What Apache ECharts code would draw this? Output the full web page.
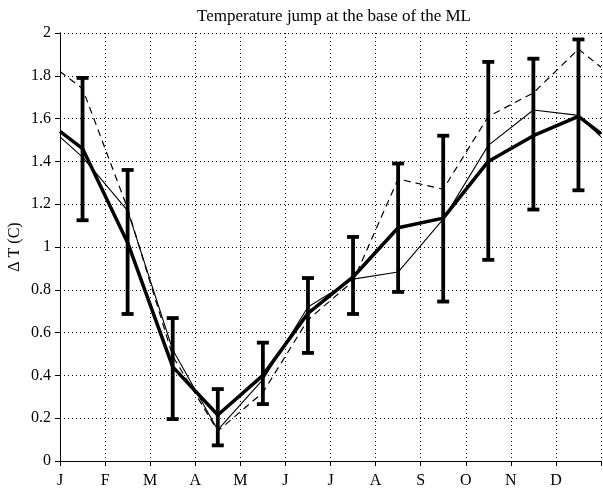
<!DOCTYPE html>
<html>
<head>
<meta charset="utf-8">
<script src="https://cdn.jsdelivr.net/npm/echarts@6/dist/echarts.min.js"></script>
<style>
  html, body { margin: 0; padding: 0; background: #fff; }
  #chart { width: 603px; height: 488px; }
</style>
</head>
<body>
<div id="chart"></div>
<script>
// month labels on the x axis (ticks at month starts)
const monthLabels = ['J', 'F', 'M', 'A', 'M', 'J', 'J', 'A', 'S', 'O', 'N', 'D', ''];
// x positions of the plotted points: left edge, mid-months, right edge
const xPos = [0, 0.5, 1.5, 2.5, 3.5, 4.5, 5.5, 6.5, 7.5, 8.5, 9.5, 10.5, 11.5, 12];

// thick line: mean, with error bars
const meanVals = [1.54, 1.46, 1.02, 0.44, 0.215, 0.40, 0.69, 0.86, 1.09, 1.135, 1.40, 1.52, 1.61, 1.53];
// thin solid line
const thinVals = [1.515, 1.42, 1.17, 0.52, 0.145, 0.38, 0.72, 0.85, 0.883, 1.13, 1.475, 1.64, 1.615, 1.515];
// dashed line
const dashVals = [1.82, 1.74, 1.18, 0.49, 0.14, 0.32, 0.66, 0.84, 1.318, 1.27, 1.61, 1.72, 1.925, 1.84];

// error bars at mid-months
const errX = [0.5, 1.5, 2.5, 3.5, 4.5, 5.5, 6.5, 7.5, 8.5, 9.5, 10.5, 11.5];
const errLow = [1.125, 0.687, 0.196, 0.073, 0.266, 0.505, 0.687, 0.79, 0.745, 0.94, 1.175, 1.265];
const errHigh = [1.79, 1.36, 0.668, 0.336, 0.553, 0.855, 1.047, 1.39, 1.52, 1.865, 1.88, 1.97];

const font = '"Liberation Serif", "DejaVu Serif", serif';

const pairs = (vals) => xPos.map((x, i) => [x, vals[i]]);

const myChart = echarts.init(document.getElementById('chart'), null, { renderer: 'canvas' });

const axisLine = { show: true, lineStyle: { color: '#000', width: 1 } };
// bottom/left ticks point out, top/right ticks point in
const tickOut = { show: true, inside: false, length: 5, lineStyle: { color: '#000' } };
const tickIn = { show: true, inside: true, length: 5, lineStyle: { color: '#000' } };
const gridDots = { show: true, lineStyle: { color: '#000', type: [1, 3], width: 1 } };

const option = {
    animation: false,
    backgroundColor: '#fff',
    title: {
        text: 'Temperature jump at the base of the ML',
        left: 329,
        textAlign: 'center',
        top: 3,
        textStyle: { fontFamily: font, fontSize: 17, fontWeight: 'normal', color: '#000' }
    },
    grid: { left: 60, right: 2, top: 33, bottom: 27, outerBoundsMode: 'none' },
    xAxis: [
        {
            type: 'value',
            min: 0, max: 12, interval: 1,
            axisLine, axisTick: tickOut,
            axisLabel: {
                color: '#000', fontFamily: font, fontSize: 16, margin: 12,
                formatter: (v) => monthLabels[Math.round(v)]
            },
            splitLine: gridDots
        },
        {
            type: 'value',
            position: 'top',
            min: 0, max: 12, interval: 1,
            axisLine, axisTick: tickIn,
            axisLabel: { show: false },
            splitLine: { show: false }
        }
    ],
    yAxis: [
        {
            type: 'value',
            min: 0, max: 2, interval: 0.2,
            axisLine, axisTick: tickOut,
            name: 'Δ T (C)',
            nameLocation: 'middle',
            nameGap: 37,
            nameMoveOverlap: false,
            nameTextStyle: { fontFamily: font, fontSize: 16, color: '#000' },
            axisLabel: { color: '#000', fontFamily: font, fontSize: 16, margin: 9 },
            splitLine: gridDots
        },
        {
            type: 'value',
            position: 'right',
            min: 0, max: 2, interval: 0.2,
            axisLine, axisTick: tickIn,
            axisLabel: { show: false },
            splitLine: { show: false }
        }
    ],
    series: [
        {
            name: 'dashed',
            type: 'line',
            data: pairs(dashVals),
            symbol: 'none',
            lineStyle: { color: '#000', width: 1.2, type: [7, 5] }
        },
        {
            name: 'thin',
            type: 'line',
            data: pairs(thinVals),
            symbol: 'none',
            lineStyle: { color: '#000', width: 1.1 }
        },
        {
            name: 'mean',
            type: 'line',
            data: pairs(meanVals),
            symbol: 'none',
            lineStyle: { color: '#000', width: 3.5 }
        },
        {
            name: 'errorbars',
            type: 'custom',
            data: errX.map((x, i) => [x, errLow[i], errHigh[i]]),
            renderItem: (params, api) => {
                const x = api.value(0);
                const lo = api.coord([x, api.value(1)]);
                const hi = api.coord([x, api.value(2)]);
                const half = 6;
                const style = { stroke: '#000', lineWidth: 3.8 };
                return {
                    type: 'group',
                    children: [
                        { type: 'line', shape: { x1: lo[0], y1: lo[1], x2: hi[0], y2: hi[1] }, style },
                        { type: 'line', shape: { x1: hi[0] - half, y1: hi[1], x2: hi[0] + half, y2: hi[1] }, style },
                        { type: 'line', shape: { x1: lo[0] - half, y1: lo[1], x2: lo[0] + half, y2: lo[1] }, style }
                    ]
                };
            },
            z: 5
        }
    ]
};

myChart.setOption(option);
</script>
</body>
</html>
